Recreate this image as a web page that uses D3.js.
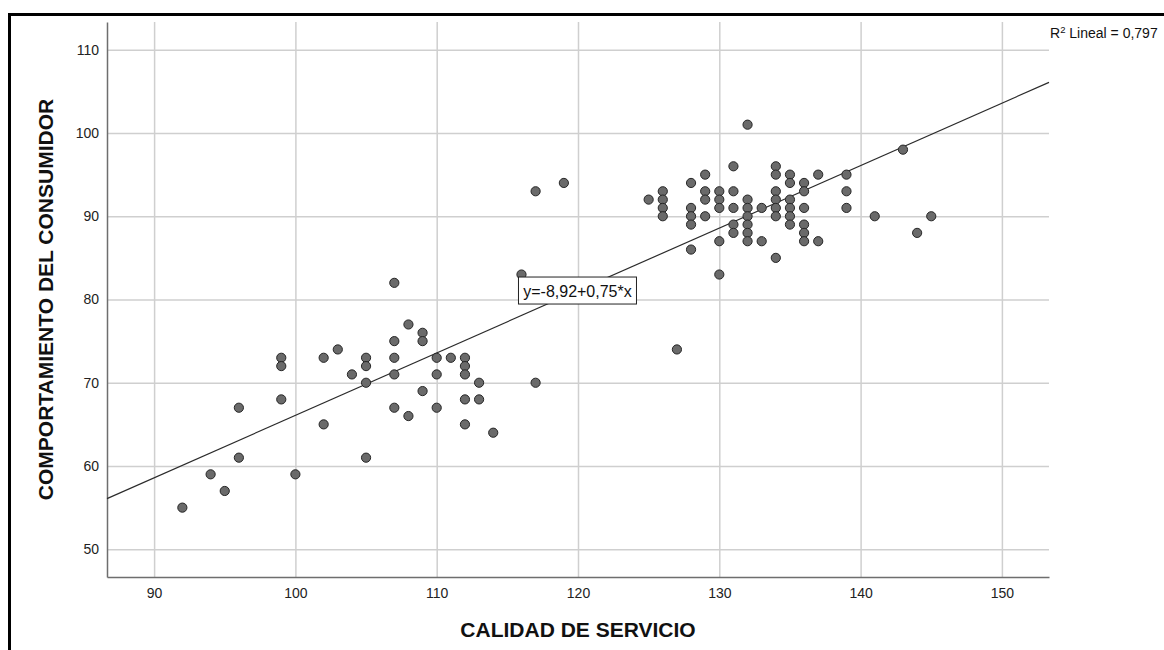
<!DOCTYPE html>
<html>
    <head>
        <title>Calidad de servicio vs comportamiento</title>
        <style>
            body, html {
              margin: 0;
              padding: 0;
              background: #fff;
            }
            svg text {
              font-family: "Liberation Sans", Arial, sans-serif;
            }
        </style>
    </head>
    <body>

        <svg id="svg" width="1164" height="650"></svg>

        <script src="https://d3js.org/d3.v7.min.js"></script>
        <script>
            // values
            const calidad = [
                92, 94, 95, 96, 96, 99, 99, 99, 100, 102, 102, 103, 104,
                105, 105, 105, 105, 107, 107, 107, 107, 107, 108, 108,
                109, 109, 109, 110, 110, 110, 111, 112, 112, 112, 112, 112,
                113, 113, 114, 116, 117, 117, 119, 125, 126, 126, 126, 126,
                127, 128, 128, 128, 128, 128, 129, 129, 129, 129,
                130, 130, 130, 130, 130, 131, 131, 131, 131, 131,
                132, 132, 132, 132, 132, 132, 132, 133, 133,
                134, 134, 134, 134, 134, 134, 134, 135, 135, 135, 135, 135, 135,
                136, 136, 136, 136, 136, 136, 137, 137, 139, 139, 139,
                141, 143, 144, 145
            ]
            const comportamiento = [
                55, 59, 57, 61, 67, 73, 72, 68, 59, 73, 65, 74, 71,
                73, 72, 70, 61, 82, 75, 73, 71, 67, 77, 66,
                76, 75, 69, 73, 71, 67, 73, 73, 72, 71, 68, 65,
                70, 68, 64, 83, 93, 70, 94, 92, 93, 92, 91, 90,
                74, 94, 91, 90, 89, 86, 95, 93, 92, 90,
                93, 92, 91, 87, 83, 96, 93, 91, 89, 88,
                101, 92, 91, 90, 89, 88, 87, 91, 87,
                96, 95, 93, 92, 91, 90, 85, 95, 94, 92, 91, 90, 89,
                94, 93, 91, 89, 88, 87, 95, 87, 95, 93, 91,
                90, 98, 88, 90
            ]
            const xTicks = [90, 100, 110, 120, 130, 140, 150]
            const yTicks = [50, 60, 70, 80, 90, 100, 110]
            const intercept = -8.92
            const slope = 0.75
            const fitLabel = 'y=-8,92+0,75*x'
            const r2Label = ' Lineal = 0,797'
            const labelAt = [116, 83]

            const data = calidad.map((c, i) => ({ x: c, y: comportamiento[i] }))

            const margin = { top: 22, right: 115, bottom: 73, left: 107 }
            const W = 1164, H = 650
            const plotW = W - margin.left - margin.right
            const plotH = H - margin.top - margin.bottom

            const xscale = d3.scaleLinear()
                .domain([86.667, 153.333])
                .range([margin.left, margin.left + plotW])
            const yscale = d3.scaleLinear()
                .domain([46.667, 113.333])
                .range([margin.top + plotH, margin.top])

            const svg = d3.select('#svg')

            // outer frame (top + left only, like the cropped output)
            svg.append('line')
                .attr('x1', 9.5).attr('x2', W).attr('y1', 14.5).attr('y2', 14.5)
                .attr('stroke', '#000').attr('stroke-width', 3)
            svg.append('line')
                .attr('x1', 9.5).attr('x2', 9.5).attr('y1', 13).attr('y2', H)
                .attr('stroke', '#000').attr('stroke-width', 3)

            // bottom axis with grid
            const bottomAxis = d3.axisBottom(xscale)
                .tickValues(xTicks)
                .tickSize(-plotH)
                .tickSizeOuter(0)
                .tickPadding(11)
            const gx = svg.append('g')
                .attr('transform', `translate(0, ${margin.top + plotH})`)
                .call(bottomAxis)

            // left axis with grid
            const leftAxis = d3.axisLeft(yscale)
                .tickValues(yTicks)
                .tickSize(-plotW)
                .tickSizeOuter(0)
                .tickPadding(8)
            const gy = svg.append('g')
                .attr('transform', `translate(${margin.left}, 0)`)
                .call(leftAxis)

            for (const g of [gx, gy]) {
                g.selectAll('.tick line').attr('stroke', '#cfcfcf').attr('stroke-width', 1.5)
                g.selectAll('.tick text')
                    .attr('fill', '#222')
                    .style('font-size', '14px')
                g.select('.domain').attr('stroke', '#6e6e6e').attr('stroke-width', 1.5).raise()
            }

            // regression line
            const [x0, x1] = xscale.domain()
            svg.append('line')
                .attr('x1', xscale(x0)).attr('y1', yscale(intercept + slope * x0))
                .attr('x2', xscale(x1)).attr('y2', yscale(intercept + slope * x1))
                .attr('stroke', '#2b2b2b')
                .attr('stroke-width', 1.2)

            // points
            svg.append('g')
                .selectAll('circle')
                .data(data)
                .enter()
                .append('circle')
                .attr('cx', d => xscale(d.x))
                .attr('cy', d => yscale(d.y))
                .attr('r', 4.6)
                .attr('fill', '#6a6a6a')
                .attr('stroke', '#262626')
                .attr('stroke-width', 1)

            // equation box
            const lab = svg.append('g')
                .attr('transform', `translate(${xscale(labelAt[0]) - 3}, ${yscale(labelAt[1]) + 2.5})`)
            lab.append('rect')
                .attr('width', 118).attr('height', 27)
                .attr('fill', '#fff').attr('stroke', '#222').attr('stroke-width', 1)
            lab.append('text')
                .attr('x', 59).attr('y', 20)
                .attr('text-anchor', 'middle')
                .style('font-size', '16px')
                .attr('fill', '#111')
                .text(fitLabel)

            // R2 note
            const r2 = svg.append('text')
                .attr('x', 1050).attr('y', 37.5)
                .style('font-size', '14px')
                .attr('fill', '#111')
            r2.append('tspan').text('R')
            r2.append('tspan').attr('dy', -5).style('font-size', '9.5px').text('2')
            r2.append('tspan').attr('dy', 5).text(r2Label)

            // axis titles
            svg.append('text')
                .attr('x', margin.left + plotW / 2)
                .attr('y', 637)
                .attr('text-anchor', 'middle')
                .style('font-size', '21px')
                .style('font-weight', 'bold')
                .attr('fill', '#111')
                .text('CALIDAD DE SERVICIO')

            svg.append('text')
                .attr('transform', `translate(53, ${margin.top + plotH / 2}) rotate(-90)`)
                .attr('text-anchor', 'middle')
                .style('font-size', '21px')
                .style('font-weight', 'bold')
                .attr('fill', '#111')
                .text('COMPORTAMIENTO DEL CONSUMIDOR')
        </script>
    </body>
</html>
